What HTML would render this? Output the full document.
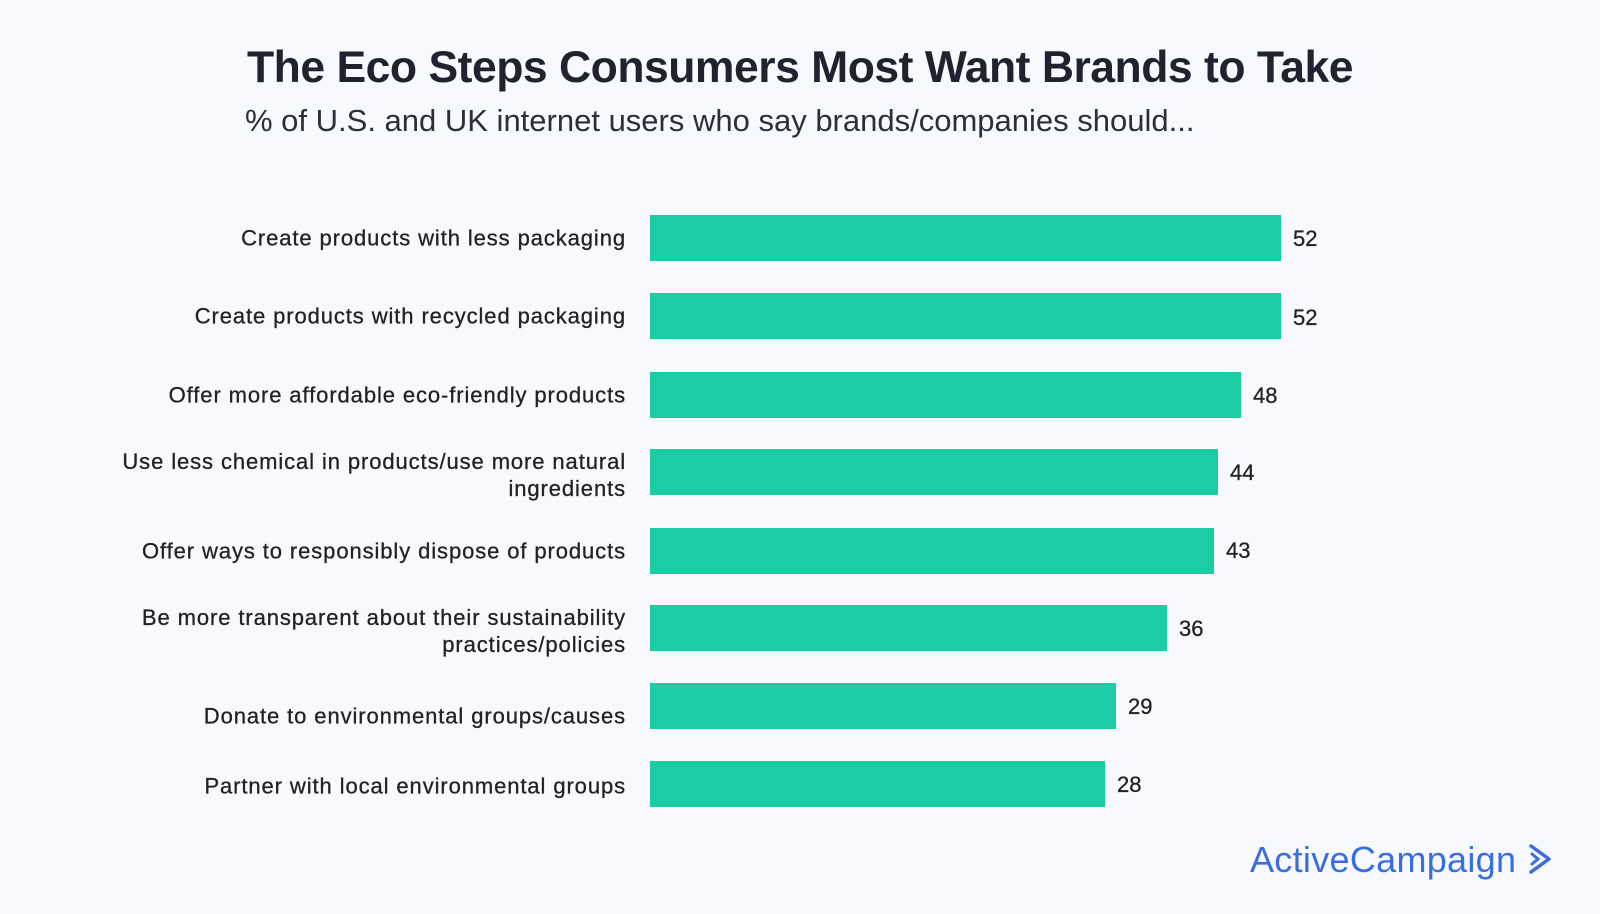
<!DOCTYPE html>
<html><head><style>
body{margin:0;width:1600px;height:914px;background:#f7f9fe;font-family:"Liberation Sans",sans-serif;position:relative;overflow:hidden;color:#1f2330}
.t{position:absolute;left:0;width:1600px;text-align:center;top:43px;font-size:44.5px;font-weight:bold;letter-spacing:-0.5px}
.s{position:absolute;left:245px;top:103px;font-size:31px;color:#2b2f3a}
.l{position:absolute;right:974px;text-align:right;font-size:22px;letter-spacing:0.9px;line-height:27px;transform:translateY(-50%);color:#222;-webkit-text-stroke:0.3px #222}
.b{position:absolute;left:650px;height:46px;background:#1ccca4;transform:translateY(-50%)}
.v{position:absolute;font-size:22px;transform:translateY(-50%);color:#222;-webkit-text-stroke:0.3px #222}
.logo{position:absolute;left:1250px;top:839px;font-size:36px;color:#3a6ee0;letter-spacing:0.3px}
</style></head><body>
<div class="t">The Eco Steps Consumers Most Want Brands to Take</div>
<div class="s">% of U.S. and UK internet users who say brands/companies should...</div>

<div class="l" style="top:238px">Create products with less packaging</div>
<div class="b" style="top:238px;width:631px"></div><div class="v" style="top:239px;left:1293px">52</div>

<div class="l" style="top:316px">Create products with recycled packaging</div>
<div class="b" style="top:316px;width:631px"></div><div class="v" style="top:318px;left:1293px">52</div>

<div class="l" style="top:395px">Offer more affordable eco-friendly products</div>
<div class="b" style="top:395px;width:591px"></div><div class="v" style="top:396px;left:1253px">48</div>

<div class="l" style="top:475px">Use less chemical in products/use more natural<br>ingredients</div>
<div class="b" style="top:472px;width:568px"></div><div class="v" style="top:473px;left:1230px">44</div>

<div class="l" style="top:551px">Offer ways to responsibly dispose of products</div>
<div class="b" style="top:551px;width:564px"></div><div class="v" style="top:551px;left:1226px">43</div>

<div class="l" style="top:631px">Be more transparent about their sustainability<br>practices/policies</div>
<div class="b" style="top:628px;width:517px"></div><div class="v" style="top:629px;left:1179px">36</div>

<div class="l" style="top:716px">Donate to environmental groups/causes</div>
<div class="b" style="top:706px;width:466px"></div><div class="v" style="top:707px;left:1128px">29</div>

<div class="l" style="top:786px">Partner with local environmental groups</div>
<div class="b" style="top:784px;width:455px"></div><div class="v" style="top:785px;left:1117px">28</div>

<div class="logo">ActiveCampaign <svg width="26" height="34" viewBox="0 0 26 34" style="vertical-align:-4px"><path d="M4 4 L22 17 L4 30" fill="none" stroke="#3a6ee0" stroke-width="3.5" stroke-linecap="round" stroke-linejoin="round"/><path d="M5 12 L11 17 L5 22" fill="none" stroke="#3a6ee0" stroke-width="3" stroke-linecap="round"/></svg></div>
</body></html>
